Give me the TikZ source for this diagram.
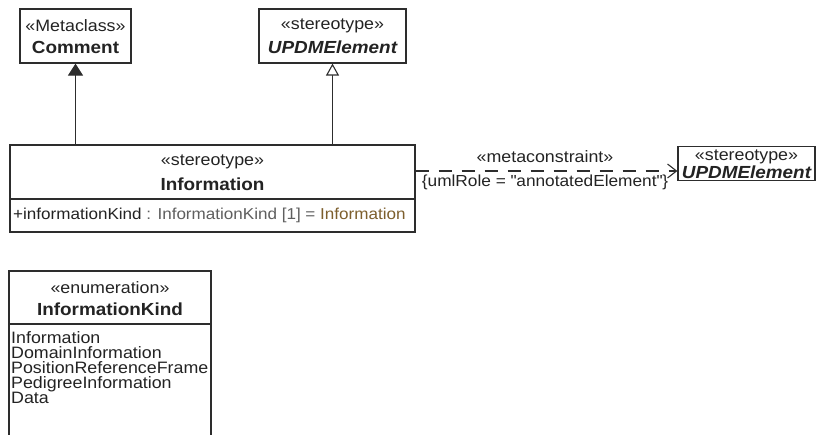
\documentclass[tikz,border=0pt]{standalone}
\usepackage{fontspec}
\setmainfont[FakeStretch=1.08]{Liberation Sans}
\usepackage{xcolor}
\usepackage{tikz}
\usetikzlibrary{arrows.meta,positioning}
\definecolor{umlLine}  {RGB}{45,  45,  45}
\definecolor{umlText}  {RGB}{35,  35,  35}
\definecolor{attrGray} {RGB}{95,  95,  95}
\definecolor{valBrown} {RGB}{125, 95,  45}

\begin{document}
\begin{tikzpicture}[x=1pt,y=-1pt,
          cls/.style={rectangle,draw=umlLine,fill=white,line width=1.2pt,
                      inner sep=0pt},
          stereo/.style={font=\fontsize{16.5}{19}\selectfont,text=umlText},
          cname/.style={font=\fontsize{17.5}{20}\selectfont\bfseries,text=umlText},
          aname/.style={font=\fontsize{17.5}{20}\selectfont\bfseries\itshape,text=umlText},
          item/.style={font=\fontsize{16.5}{15}\selectfont,text=umlText,
                       anchor=west,inner sep=0pt},
          conn/.style={umlLine,line width=1.1pt},
        ]
        \useasboundingbox (0,0) rectangle (817,435);

        % METACLASS COMMENT
        \node[cls,minimum width=111pt,minimum height=54pt] (cm) at (75.5,36) {};
        \node[stereo] (cmS) at (75.5,26) {«Metaclass»};
        \node[cname]  (cmN) at (75.5,47) {Comment};

        % UPDMELEMENT (top)
        \node[cls,minimum width=147pt,minimum height=54pt] (upT) at (332.5,36) {};
        \node[stereo] (upTS) at (332.5,26) {«stereotype»};
        \node[aname]  (upTN) at (332.5,47) {UPDMElement};

        % INFORMATION
        \node[cls,minimum width=405pt,minimum height=87pt] (info) at (212.5,188.5) {};
        \node[stereo] (infoS) at (212.5,162) {«stereotype»};
        \node[cname]  (infoN) at (212.5,184) {Information};
        \draw[conn] (info.west |- 0,199) -- (info.east |- 0,199);
        \node[item,font=\fontsize{15.8}{15}\selectfont] (infoA) at (13,215)
          {+informationKind\ \textcolor{attrGray}{: InformationKind [1] = }\textcolor{valBrown}{Information}};

        % UPDMELEMENT (right)
        \node[cls,minimum width=137pt,minimum height=34pt] (upR) at (746.5,163.5) {};
        \node[stereo] (upRS) at (746.5,157) {«stereotype»};
        \node[aname]  (upRN) at (746.5,172.5) {UPDMElement};

        % ENUMERATION
        \node[cls,minimum width=202pt,minimum height=168pt] (en) at (110,355) {};
        \node[stereo] (enS) at (110,288) {«enumeration»};
        \node[cname]  (enN) at (110,309) {InformationKind};
        \draw[conn] (en.west |- 0,324) -- (en.east |- 0,324);
        \node[item,anchor=north west,align=left] (enL) at (11,331)
          {Information\\ DomainInformation\\ PositionReferenceFrame\\
           PedigreeInformation\\ Data};

        % connectors
        \draw[conn,-{Triangle[length=12pt,width=15pt]}]
          (cm.south |- info.north) -- (cm.south);
        \draw[conn,-{Triangle[open,fill=white,length=12pt,width=13pt]}]
          (upT.south |- info.north) -- (upT.south);
        \coordinate (depy) at (0,171);
        \draw[conn,dash pattern=on 13pt off 10pt,
              -{Straight Barb[length=9pt,width=14pt,line width=1.1pt]}]
          (info.east |- depy) -- (upR.west |- depy);
        \node[stereo] (depS) at (545,157) {«metaconstraint»};
        \node[stereo,font=\fontsize{16}{19}\selectfont] (depR) at (545,182)
          {\{umlRole = \textquotedbl annotatedElement\textquotedbl\}};
      \end{tikzpicture}
\end{document}
